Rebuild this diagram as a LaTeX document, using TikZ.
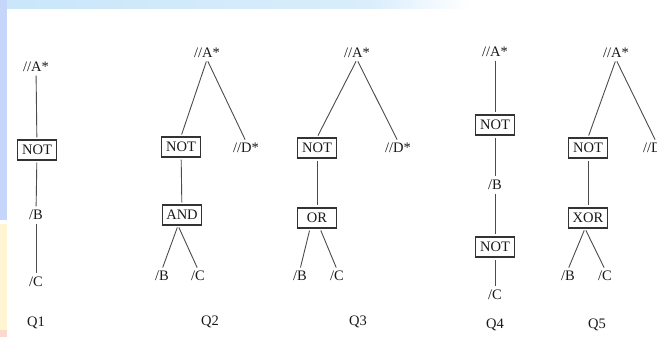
\documentclass[tikz,border=0pt]{standalone}
\usepackage{fontspec}
\setmainfont{Liberation Serif}
\usetikzlibrary{calc}
\definecolor{bandblue}{HTML}{C9E6FA}
\definecolor{sideblue}{HTML}{C6D6FA}
\definecolor{sideyellow}{HTML}{FFF5D2}
\definecolor{sidepink}{HTML}{FBD9CF}
\begin{document}
\begin{tikzpicture}[x=1pt,y=-1pt,
  lbl/.style={font=\fontsize{14.5}{16}\selectfont, inner sep=1.5pt, text=black!90},
  opbox/.style={lbl, draw=black!80, line width=1.1pt, minimum width=39pt, minimum height=20pt, inner sep=2pt},
  edge/.style={draw=black!70, line width=0.9pt, shorten <=2pt, shorten >=2pt}]
\useasboundingbox (0,0) rectangle (657,337);
\clip (0,0) rectangle (657,337);
\fill[white] (0,0) rectangle (657,337);
% background bands
\shade[left color=bandblue, right color=bandblue!70] (0,0) rectangle (370,9);
\shade[left color=bandblue!70, right color=white] (370,0) rectangle (470,9);
\fill[sideblue] (0,0) rectangle (7,220);
\fill[sideyellow] (0,224) rectangle (7,330);
\fill[sidepink] (0,330) rectangle (7,337);

% Q1
\node[lbl] (a1) at (36,67) {//A*};
\node[opbox] (n1) at (37,150) {NOT};
\node[lbl] (b1) at (36,215) {/B};
\node[lbl] (c1) at (36,282) {/C};
\node[lbl] (q1) at (36,323) {Q1};
\draw[edge] (a1) -- (n1);
\draw[edge] (n1) -- (b1);
\draw[edge] (b1) -- (c1);

% Q2
\node[lbl] (a2) at (207,53) {//A*};
\node[opbox] (n2) at (181,147) {NOT};
\node[lbl] (d2) at (246,148) {//D*};
\node[opbox] (and2) at (182,215) {AND};
\node[lbl] (b2) at (162,276) {/B};
\node[lbl] (c2) at (198,276) {/C};
\node[lbl] (q2) at (210,322) {Q2};
\draw[edge] (a2.south) -- (n2.north);
\draw[edge] (a2.south) -- (d2.north);
\draw[edge] (n2) -- (and2);
\draw[edge] ($(and2.south)+(-4,0)$) -- (b2.north);
\draw[edge] ($(and2.south)+(-4,0)$) -- (c2.north);

% Q3
\node[lbl] (a3) at (357,53) {//A*};
\node[opbox] (n3) at (317,148) {NOT};
\node[lbl] (d3) at (398,148) {//D*};
\node[opbox] (or3) at (317,218) {OR};
\node[lbl] (b3) at (300,276) {/B};
\node[lbl] (c3) at (337,276) {/C};
\node[lbl] (q3) at (358,322) {Q3};
\draw[edge] (a3.south) -- (n3.north);
\draw[edge] (a3.south) -- (d3.north);
\draw[edge] (n3) -- (or3);
\draw[edge] ($(or3.south)+(-7,0)$) -- (b3.north);
\draw[edge] ($(or3.south)+(3,0)$) -- (c3.north);

% Q4
\node[lbl] (a4) at (495,52) {//A*};
\node[opbox] (n4) at (495,125) {NOT};
\node[lbl] (b4) at (495,185) {/B};
\node[opbox] (m4) at (495,247) {NOT};
\node[lbl] (c4) at (495,295) {/C};
\node[lbl] (q4) at (495,325) {Q4};
\draw[edge] (a4) -- (n4);
\draw[edge] (n4) -- (b4);
\draw[edge] (b4) -- (m4);
\draw[edge] (m4) -- (c4);

% Q5
\node[lbl] (a5) at (616,53) {//A*};
\node[opbox] (n5) at (588,148) {NOT};
\node[lbl] (d5) at (656,148) {//D*};
\node[opbox] (x5) at (588,218) {XOR};
\node[lbl] (b5) at (568,276) {/B};
\node[lbl] (c5) at (605,276) {/C};
\node[lbl] (q5) at (597,325) {Q5};
\draw[edge] (a5.south) -- (n5.north);
\draw[edge] (a5.south) -- (d5.north);
\draw[edge] (n5) -- (x5);
\draw[edge] ($(x5.south)+(-3,0)$) -- (b5.north);
\draw[edge] ($(x5.south)+(-3,0)$) -- (c5.north);
\end{tikzpicture}
\end{document}
